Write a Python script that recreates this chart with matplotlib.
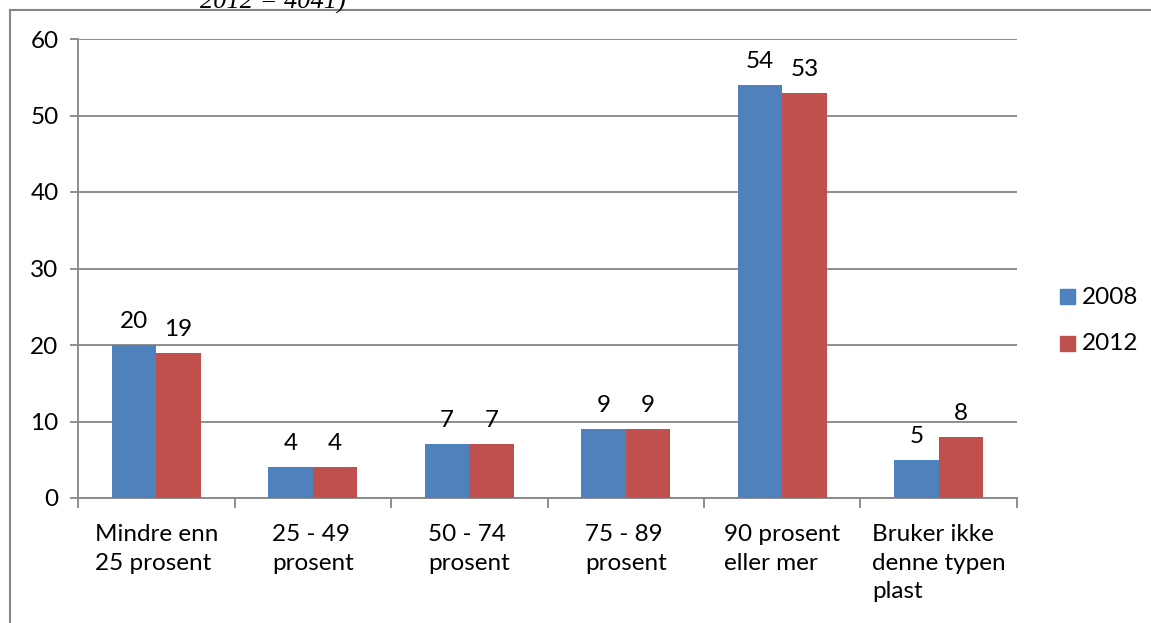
import numpy as np
import matplotlib.pyplot as plt
from matplotlib.patches import Rectangle
from matplotlib.lines import Line2D

categories = ["Mindre enn\n25 prosent", "25 - 49\nprosent", "50 - 74\nprosent",
              "75 - 89\nprosent", "90 prosent\neller mer", "Bruker ikke\ndenne typen\nplast"]
v2008 = [20, 4, 7, 9, 54, 5]
v2012 = [19, 4, 7, 9, 53, 8]
series = ["2008", "2012"]
yticks = [0, 10, 20, 30, 40, 50, 60]

blue = "#4f81bd"
red = "#c0504d"
gray = "#868686"
fs = 17.5

plt.rcParams['font.family'] = ['Lato', 'DejaVu Sans']

W, H = 1151, 623
fig = plt.figure(figsize=(W / 100, H / 100), dpi=100)

# outer chart frame (left and top edges only visible)
fig.add_artist(Line2D([10 / W, 10 / W], [0, 1 - 10 / H], color=gray, lw=1.5))
fig.add_artist(Line2D([10 / W, 1], [1 - 10 / H, 1 - 10 / H], color=gray, lw=1.5))

# cut-off caption at the top
fig.text(200 / W, 1.0 - 2 / H, "2012 = 4041)", family="Liberation Serif", style="italic",
         fontsize=19, va="center", ha="left", color="black")

ax = fig.add_axes([78 / W, 1 - 498 / H, (1017 - 78) / W, (498 - 39) / H])
x = np.arange(len(categories))
bw = 0.285
b1 = ax.bar(x - bw / 2, v2008, bw, color=blue, label=series[0], zorder=3)
b2 = ax.bar(x + bw / 2, v2012, bw, color=red, label=series[1], zorder=3)

for bars, vals in ((b1, v2008), (b2, v2012)):
    for b, v in zip(bars, vals):
        ax.text(b.get_x() + b.get_width() / 2, v + 1.7, str(v), ha="center",
                va="bottom", fontsize=fs)

ax.set_xlim(-0.5, len(categories) - 0.5)
ax.set_ylim(0, 60)
ax.set_yticks(yticks)
ax.yaxis.grid(True, color=gray, lw=1.3, zorder=0)
ax.tick_params(axis="y", length=6, color=gray, width=1.3, labelsize=fs, pad=8)
ax.set_xticks(np.arange(len(categories) + 1) - 0.5)
ax.set_xticklabels([])
ax.tick_params(axis="x", length=7, color=gray, width=1.3)
for s in ["top", "right"]:
    ax.spines[s].set_visible(False)
for s in ["left", "bottom"]:
    ax.spines[s].set_color(gray)
    ax.spines[s].set_linewidth(1.3)

for i, c in enumerate(categories):
    ax.text(i, -3.4, c, ha="center", va="top", multialignment="left",
            fontsize=fs, linespacing=1.45)

# legend
for j, (s, col) in enumerate(zip(series, [blue, red])):
    yc = 1 - (297 + 47 * j) / H
    fig.add_artist(Rectangle((1060 / W, yc - 7 / H), 15 / W, 15 / H,
                             color=col, transform=fig.transFigure))
    fig.text(1082 / W, yc, s, fontsize=fs, va="center", ha="left")

fig.savefig("out.png", dpi=100)
